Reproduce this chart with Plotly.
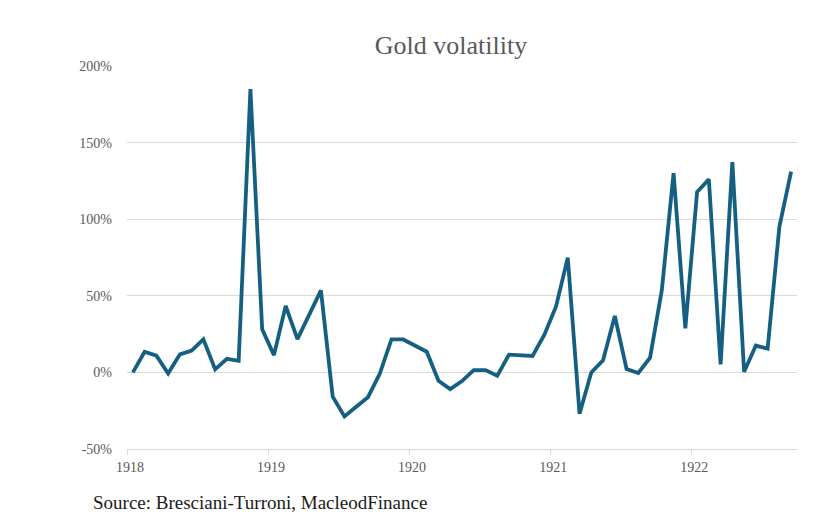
import plotly.graph_objects as go

years = ["1918", "1919", "1920", "1921", "1922"]
months = [f"{1918 + i // 12}-{i % 12 + 1:02d}" for i in range(57)]
volatility = [
    0.0, 13.5, 10.9, -0.7, 11.8, 14.2, 21.6, 2.0, 8.9, 7.6, 185.0, 28.1,
    11.3, 43.4, 21.7, 37.5, 53.5, -15.8, -28.7, -22.4, -16.2, -0.9, 21.5, 21.5,
    17.7, 13.5, -5.5, -10.9, -5.7, 1.5, 1.5, -2.2, 11.6, 11.1, 10.7, 24.5,
    43.0, 74.9, -27.0, 0.0, 7.9, 36.9, 2.2, -0.4, 9.6, 53.7, 130.1, 28.7,
    117.7, 126.0, 5.2, 137.3, 0.4, 17.5, 15.5, 95.0, 131.0,
]
y_ticks = [-50, 0, 50, 100, 150, 200]
y_labels = ["-50%", "0%", "50%", "100%", "150%", "200%"]

x_idx = list(range(len(months)))
year_ticks = [12 * k - 0.5 for k in range(len(years))]

SERIF = "Liberation Serif, Times New Roman, serif"
GRID = "#d9d9d9"

fig = go.Figure()
fig.add_trace(go.Scatter(
    x=x_idx, y=volatility, mode="lines",
    line=dict(color="#156082", width=3.8),
    text=months, hoverinfo="text+y",
))

fig.update_layout(
    width=834, height=532,
    margin=dict(l=127, r=37, t=66, b=83),
    paper_bgcolor="white", plot_bgcolor="white",
    showlegend=False,
    title=dict(
        text="Gold volatility", x=451 / 834, xanchor="center",
        y=1 - 45 / 532, yanchor="middle", xref="container",
        font=dict(family=SERIF, size=26, color="#595959"),
    ),
    font=dict(family=SERIF, color="#595959"),
)
fig.update_xaxes(
    range=[-0.5, len(months) - 0.5],
    tickmode="array", tickvals=year_ticks, ticktext=years,
    ticks="outside", ticklen=5, tickcolor=GRID, tickwidth=1,
    ticklabelshift=3,
    showline=True, linecolor=GRID, linewidth=1,
    showgrid=False, zeroline=False,
    tickfont=dict(family=SERIF, size=14, color="#595959"),
)
fig.update_yaxes(
    range=[-50, 200],
    tickmode="array", tickvals=y_ticks, ticktext=y_labels,
    showgrid=True, gridcolor=GRID, gridwidth=1,
    zeroline=False, showline=False, ticks="",
    ticklabelstandoff=14,
    tickfont=dict(family=SERIF, size=14, color="#595959"),
)
fig.add_annotation(
    text="Source: Bresciani-Turroni, MacleodFinance",
    xref="paper", yref="paper",
    x=(91 - 127) / 670, y=(449.3 - 503) / 383.3,
    xanchor="left", yanchor="middle", showarrow=False,
    font=dict(family=SERIF, size=19, color="#1a1a1a"),
)

fig.write_html("out.html")
